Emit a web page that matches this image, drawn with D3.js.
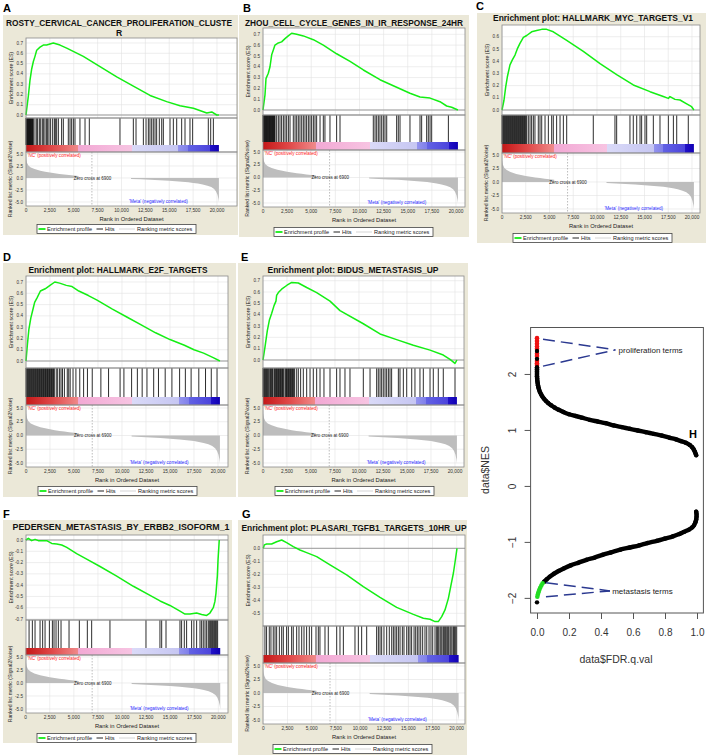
<!DOCTYPE html>
<html><head><meta charset="utf-8">
<script src="https://cdn.jsdelivr.net/npm/d3@7/dist/d3.min.js"></script>
<style>body{margin:0;background:#fff}svg{display:block}text{font-family:"Liberation Sans",Arial,sans-serif}</style>
</head><body><svg id="c" width="709" height="755"></svg>
<script>
// ---------------- DATA ----------------
const nGenes = 20200;
const zeroCross = 6900;
const rankTicks = [0,2500,5000,7500,10000,12500,15000,17500,20000];
const rankTickLabels = ["0","2,500","5,000","7,500","10,000","12,500","15,000","17,500","20,000"];
const metricTicks = [5,2.5,0,-2.5,-5];
const metricTickLabels = ["5.0","2.5","0.0","-2.5","-5.0"];
const esTicksPos7 = [0,0.1,0.2,0.3,0.4,0.5,0.6,0.7];
const esTicksPos6 = [0,0.1,0.2,0.3,0.4,0.5,0.6];
const esTicksNeg7 = [0,-0.1,-0.2,-0.3,-0.4,-0.5,-0.6,-0.7];
const esTicksNeg5 = [0,-0.1,-0.2,-0.3,-0.4,-0.5];

// ranked list metric (signal2noise), positive and negative parts
const metricPos = [[0,5],[30,4],[100,3.2],[250,2.6],[500,2.2],[900,1.85],[1500,1.5],[2000,1.3],[2500,1.12],[3000,0.97],[3500,0.84],[4000,0.72],[4500,0.6],[5000,0.5],[5500,0.4]];
const metricNeg = [[11000,-0.2],[12000,-0.28],[13000,-0.37],[14000,-0.46],[15000,-0.58],[16000,-0.72],[17000,-0.9],[17500,-1.02],[18000,-1.17],[18500,-1.35],[19000,-1.6],[19400,-1.9],[19700,-2.3],[19900,-2.8],[20050,-3.5],[20150,-4.3],[20200,-5.0]];

// colour bar bands [rank, colour]
const colorBarStops = [[0,"#c41818"],[2700,"#e04848"],[5450,"#f08a8a"],[5450,"#f2a8d4"],[11050,"#f7c4e2"],[11050,"#dadaf8"],[15950,"#c6c6f2"],[15950,"#9494ee"],[16950,"#8080ea"],[16950,"#6262e4"],[19250,"#4c44dc"],[19250,"#2212c8"],[20200,"#1000b4"]];

// enrichment score curves [rank, ES]
const esA = [[0,0],[240,0.18],[420,0.34],[600,0.45],[770,0.52],[940,0.57],[1120,0.63],[1470,0.66],[1810,0.68],[2160,0.68],[2860,0.70],[3560,0.68],[4260,0.65],[6000,0.57],[7750,0.47],[9500,0.37],[11240,0.28],[12990,0.19],[14730,0.13],[16130,0.09],[17530,0.065],[18930,0.02],[19450,0.03],[19970,0.0],[20200,0]];
const esB = [[0,0],[207,0.14],[310,0.29],[550,0.34],[725,0.40],[900,0.51],[1070,0.555],[1240,0.60],[1590,0.62],[1930,0.63],[2280,0.66],[2620,0.685],[2970,0.71],[3490,0.70],[4180,0.685],[5220,0.65],[6250,0.60],[7630,0.52],[9020,0.45],[10400,0.37],[12120,0.28],[13850,0.21],[15230,0.155],[16270,0.12],[17310,0.11],[18340,0.077],[19030,0.037],[19550,0.025],[20200,0]];
const esC = [[0,0],[210,0.08],[390,0.19],[560,0.27],[840,0.37],[1090,0.41],[1370,0.45],[1610,0.50],[1890,0.545],[2250,0.595],[2600,0.61],[3120,0.64],[3650,0.65],[4180,0.66],[4700,0.66],[5400,0.64],[6810,0.57],[8560,0.48],[10320,0.38],[12070,0.29],[13820,0.205],[15580,0.15],[16980,0.11],[17510,0.095],[17680,0.11],[18210,0.087],[18740,0.082],[19440,0.05],[19960,0.027],[20200,0]];
const esD = [[0,0],[150,0.15],[300,0.28],[500,0.38],[700,0.45],[900,0.52],[1150,0.56],[1500,0.62],[2000,0.64],[2500,0.67],[3000,0.70],[3500,0.69],[4200,0.67],[4800,0.66],[5500,0.62],[6500,0.58],[7400,0.54],[9000,0.46],[10500,0.39],[12000,0.32],[13500,0.25],[15000,0.19],[16500,0.14],[17500,0.10],[18500,0.07],[19500,0.03],[20200,0]];
const esE = [[0,0],[210,0.116],[450,0.26],[660,0.35],[900,0.41],[1150,0.48],[1350,0.52],[1420,0.57],[1600,0.595],[1940,0.625],[2500,0.66],[2990,0.685],[3680,0.68],[4550,0.64],[5590,0.595],[6980,0.52],[8020,0.436],[10450,0.32],[12190,0.23],[13920,0.18],[15660,0.13],[17400,0.087],[18780,0.044],[19480,0.005],[20000,-0.03],[20200,0]];
const esF = [[0,0],[280,0.015],[620,-0.006],[970,0.006],[1310,-0.006],[2180,-0.006],[2700,-0.03],[3220,-0.035],[3740,-0.044],[4260,-0.065],[5290,-0.12],[6330,-0.17],[7720,-0.235],[9450,-0.32],[11180,-0.41],[12910,-0.49],[13950,-0.54],[14980,-0.58],[16020,-0.63],[16540,-0.656],[17060,-0.656],[17750,-0.647],[18270,-0.66],[18790,-0.668],[19130,-0.647],[19480,-0.60],[19650,-0.544],[19760,-0.47],[19900,-0.32],[19970,-0.18],[20100,0]];
const esG = [[0,0],[100,0.026],[340,0.033],[860,0.033],[1380,0.05],[1900,0.064],[2410,0.044],[3100,0.013],[3790,-0.013],[4480,-0.033],[5520,-0.064],[6900,-0.128],[8620,-0.205],[10340,-0.295],[12070,-0.377],[13790,-0.454],[15520,-0.508],[16550,-0.538],[17240,-0.546],[17760,-0.564],[18100,-0.564],[18450,-0.526],[18790,-0.474],[19140,-0.385],[19380,-0.295],[19660,-0.19],[19860,-0.09],[20030,0]];

// gene-set hit ranks
const hitsA = [0,35,70,105,140,175,210,245,280,315,350,385,420,455,490,525,560,600,640,680,720,760,940,1120,1220,1400,1540,1710,1850,1990,2160,2270,2410,2580,2790,2970,3070,3210,3390,3730,3910,4430,4610,4780,4960,5130,5650,6180,6630,9840,11240,11520,12290,12570,12810,12980,13160,13330,13510,13680,13960,14210,14380,15080,15430,15780,16300,16650,17170,17450,19090,19340,19620];
const hitsB = [0,45,90,135,180,225,270,315,360,405,450,495,540,585,630,675,720,765,810,855,900,945,990,1035,1080,1125,1170,1215,1240,1416,1590,1760,1930,2110,2280,2450,2630,2800,3140,3320,3490,3660,3830,4010,4180,4350,4520,4700,4870,5040,5220,5390,5560,5910,6250,6420,6940,7630,7980,11430,11610,11780,11950,12120,12300,12470,12640,12820,13850,14020,14200,15230,16270,16440,16960,17130,17310,17480,19210];
const hitsC = [0,70,140,210,280,350,420,490,560,630,700,770,840,910,980,1050,1120,1190,1260,1330,1400,1470,1540,1610,1680,1750,1820,1890,1960,2030,2100,2170,2240,2310,2380,2450,2520,2600,2770,2950,3120,3300,3470,3820,4000,4180,4530,4880,5230,5400,5750,6110,6460,6810,9610,11890,12070,13470,13820,14180,14530,14700,15050,15230,15930,16630,17510,18040,18390,19610];
const hitsD = [0,70,140,210,280,350,420,490,560,630,700,770,840,910,980,1050,1120,1190,1260,1330,1400,1470,1540,1610,1680,1750,1820,1890,1960,2030,2100,2170,2240,2310,2380,2450,2520,2590,2660,2730,2800,2870,2950,3150,3300,3500,3650,3800,4000,4300,4450,4600,4900,5200,5600,6000,6400,6900,7800,8600,9800,10200,11000,11600,12100,12600,13300,13800,14500,15200,16000,16600,17200,18000,18700,19300,19900];
const hitsE = [0,70,140,210,280,350,420,490,560,700,770,840,910,980,1050,1190,1260,1330,1400,1470,1540,1610,1680,1750,1820,1890,1960,2030,2100,2170,2310,2380,2450,2520,2590,2660,2730,2800,2870,2940,3010,3080,3150,3220,3300,3510,3680,3920,4200,4550,4900,5240,5590,5940,6350,6980,7670,8020,8540,9060,10450,11150,11840,12010,12190,12360,12530,12710,12880,13060,13230,13400,14100,14270,14620,14970,15490,15830,16350,16700,17400,17740,18260,18780,20000];
const hitsF = [350,690,970,1490,1760,2010,2460,2770,2940,3150,3390,3670,4500,5570,6400,6850,8750,12490,13940,14120,14570,16020,16190,16470,16710,17230,17470,17750,18100,18270,18440,18620,18790,18960,19070,19200,19310,19410,19520,19620,19720,19830,19930];
const hitsG = [170,340,620,790,1030,1210,1380,1660,1900,2070,2410,2590,2930,3100,3450,3690,3970,4210,4480,4760,5000,5450,5690,5860,6380,6720,7590,7930,8280,9480,9830,10170,10690,11720,11900,12070,12240,12480,12760,13030,13280,13450,13620,13790,13970,14140,14380,14550,14830,15000,15170,15340,15590,15760,15930,16100,16280,16480,16720,16900,17140,17340,17520,17760,17930,18030,18140,18280,18380,18480,18620,18720,18830,18970,19070,19170,19310,19410,19520,19660,19760,19860,20000];

// panel H: [FDR q-value, NES]
const prolifTerms = [[0,2.64],[0,2.59],[0,2.54],[0,2.49],[0,2.45],[0,2.36],[0,2.32],[0,2.23],[0,2.19],[0,2.16]];
const otherPos = [[0,2.41],[0,2.27],[0,2.12],[0,2.08],[0,2.04],[0,2.0],[0,1.96],[0.001,1.92],[0.002,1.88],[0.004,1.84],[0.006,1.80],[0.009,1.76],[0.013,1.72],[0.018,1.68],[0.025,1.64],[0.033,1.60],[0.043,1.56],[0.055,1.52],[0.07,1.48],[0.088,1.44],[0.11,1.40],[0.135,1.36],[0.165,1.32],[0.2,1.28],[0.24,1.25],[0.28,1.22],[0.33,1.18],[0.38,1.15],[0.43,1.12],[0.48,1.08],[0.53,1.05],[0.58,1.02],[0.63,0.99],[0.68,0.96],[0.73,0.93],[0.78,0.9],[0.83,0.86],[0.87,0.83],[0.9,0.8],[0.93,0.77],[0.955,0.73],[0.97,0.69],[0.98,0.65],[0.987,0.61],[0.992,0.57],[0.995,0.55]];
const otherNeg = [[0.995,-0.46],[0.997,-0.5],[0.997,-0.55],[0.995,-0.6],[0.99,-0.65],[0.982,-0.7],[0.97,-0.74],[0.95,-0.78],[0.92,-0.82],[0.89,-0.86],[0.85,-0.9],[0.8,-0.94],[0.75,-0.98],[0.69,-1.02],[0.64,-1.06],[0.58,-1.1],[0.52,-1.14],[0.46,-1.19],[0.41,-1.23],[0.36,-1.28],[0.31,-1.32],[0.26,-1.37],[0.21,-1.42],[0.17,-1.47],[0.135,-1.52],[0.105,-1.57],[0.08,-1.62],[0.06,-1.67],[0.045,-1.71]];
const metastasisTerms = [[0.035,-1.74],[0.027,-1.78],[0.02,-1.82],[0.014,-1.86],[0.009,-1.9],[0.005,-1.94],[0.002,-1.98]];
const lowestTerm = [[0,-2.08]];
const fdrTicks = [0,0.2,0.4,0.6,0.8,1.0];
const nesTicks = [-2,-1,0,1,2];
const nesTickLabels = ["\u22122","\u22121","0","1","2"];

// ---------------- LAYOUT ----------------
const panels = [
 {id:"A",label:[3,12],box:[3,15,238,235],title:["ROSTY_CERVICAL_CANCER_PROLIFERATION_CLUSTE","R"],tx:119,ty:[26,36],tw:[226,null],pl:26,pr:237,x0:26,x20:217,esTop:38,esDom:[0,0.7],esRng:[115,43],hitsTop:118,cbTop:145,cbBot:152,m5:154,mm5:202,legend:[37,229],es:esA,hits:hitsA,ticks:esTicksPos7},
 {id:"B",label:[243,12],box:[239,15,469,237],title:["ZHOU_CELL_CYCLE_GENES_IN_IR_RESPONSE_24HR"],tx:354,ty:[26],tw:[218],pl:263,pr:465,x0:263,x20:456,esTop:28,esDom:[0,0.7],esRng:[110,34.3],hitsTop:115,cbTop:142,cbBot:150,m5:152,mm5:203,legend:[274,232],es:esB,hits:hitsB,ticks:esTicksPos7},
 {id:"C",label:[476,10],box:[477,13,706,243],title:["Enrichment plot: HALLMARK_MYC_TARGETS_V1"],tx:593,ty:[21],tw:[200],pl:502,pr:700,x0:502,x20:692,esTop:25,esDom:[0,0.6],esRng:[110,36.7],hitsTop:115,cbTop:144,cbBot:153,m5:155,mm5:209,legend:[513,238],es:esC,hits:hitsC,ticks:esTicksPos6},
 {id:"D",label:[3,261],box:[3,263,236,497],title:["Enrichment plot: HALLMARK_E2F_TARGETS"],tx:118,ty:[273],tw:[179],pl:26,pr:228,x0:26,x20:218,esTop:276,esDom:[0,0.7],esRng:[361,282],hitsTop:368,cbTop:397,cbBot:405,m5:408,mm5:463,legend:[38,491],es:esD,hits:hitsD,ticks:esTicksPos7},
 {id:"E",label:[241,261],box:[238,263,468,497],title:["Enrichment plot: BIDUS_METASTASIS_UP"],tx:353,ty:[273],tw:[171],pl:263,pr:464,x0:263,x20:455,esTop:276,esDom:[0,0.7],esRng:[360,280.7],hitsTop:368,cbTop:397,cbBot:405,m5:408,mm5:463,legend:[275,491],es:esE,hits:hitsE,ticks:esTicksPos7},
 {id:"F",label:[3,518],box:[3,520,232,743],title:["PEDERSEN_METASTASIS_BY_ERBB2_ISOFORM_1"],tx:121,ty:[530],tw:[217],pl:26,pr:228,x0:25.7,x20:218.3,esTop:535,esDom:[0,-0.7],esRng:[540,619],hitsTop:620,cbTop:648,cbBot:655,m5:657,mm5:709,legend:[37,738],es:esF,hits:hitsF,ticks:esTicksNeg7},
 {id:"G",label:[242,518],box:[238,520,467,755],title:["Enrichment plot: PLASARI_TGFB1_TARGETS_10HR_UP"],tx:354,ty:[531],tw:[225],pl:263,pr:465,x0:263.3,x20:456.7,esTop:535,esDom:[0,-0.5],esRng:[548.3,613.3],hitsTop:626,cbTop:655,cbBot:663,m5:666,mm5:720,legend:[273,749],es:esG,hits:hitsG,ticks:esTicksNeg5}
];

const svg = d3.select("#c");
const defs = svg.append("defs");

function gsea(L) {
  const x = d3.scaleLinear().domain([0,20000]).range([L.x0, L.x20]);
  const yE = d3.scaleLinear().domain(L.esDom).range(L.esRng);
  const yM = d3.scaleLinear().domain([5,-5]).range([L.m5, L.mm5]);
  const mBot = L.mm5 + 4;
  const g = svg.append("g");
  const [bx0,by0,bx1,by1] = L.box;
  g.append("rect").attr("x",bx0).attr("y",by0).attr("width",bx1-bx0).attr("height",by1-by0).attr("fill","#ebe8d8");
  g.append("text").attr("x",L.label[0]).attr("y",L.label[1]).attr("font-size",11).attr("font-weight","bold").text(L.id);
  L.title.forEach((t,i)=>{
    const tt = g.append("text").attr("x",L.tx).attr("y",L.ty[i]).attr("text-anchor","middle")
      .attr("font-size",8.6).attr("font-weight","bold").attr("fill","#111").text(t);
    if (L.tw[i]) tt.attr("textLength",L.tw[i]).attr("lengthAdjust","spacingAndGlyphs");
  });
  const W = L.pr - L.pl;
  g.append("rect").attr("x",L.pl).attr("y",L.esTop).attr("width",W).attr("height",mBot-L.esTop).attr("fill","#fff");
  // grid
  const grid = g.append("g").attr("stroke","#e3e3e3").attr("stroke-width",0.6);
  rankTicks.forEach(r=>{
    grid.append("line").attr("x1",x(r)).attr("x2",x(r)).attr("y1",L.esTop).attr("y2",L.hitsTop);
    grid.append("line").attr("x1",x(r)).attr("x2",x(r)).attr("y1",L.cbBot).attr("y2",mBot);
  });
  L.ticks.forEach(v=>grid.append("line").attr("x1",L.pl).attr("x2",L.pr).attr("y1",yE(v)).attr("y2",yE(v)));
  metricTicks.forEach(v=>grid.append("line").attr("x1",L.pl).attr("x2",L.pr).attr("y1",yM(v)).attr("y2",yM(v)));
  // ES zero line
  g.append("line").attr("x1",L.pl).attr("x2",L.pr).attr("y1",yE(0)).attr("y2",yE(0)).attr("stroke","#9a9a9a").attr("stroke-width",1);
  // ES curve
  g.append("path").datum(L.es).attr("d",d3.line().x(d=>x(d[0])).y(d=>yE(d[1])))
    .attr("fill","none").attr("stroke","#14ee14").attr("stroke-width",1.5).attr("stroke-linejoin","round");
  // ES tick labels
  L.ticks.forEach(v=>g.append("text").attr("x",L.pl-3).attr("y",yE(v)+1.6).attr("text-anchor","end")
    .attr("font-size",4.6).attr("fill","#333").text(v.toFixed(1)));
  // hits
  g.append("g").selectAll("line").data(L.hits).join("line")
    .attr("x1",d=>x(d)).attr("x2",d=>x(d)).attr("y1",L.hitsTop).attr("y2",L.cbTop)
    .attr("stroke","#151515").attr("stroke-width",0.9);
  // colour bar
  const gid = "cb"+L.id;
  const grad = defs.append("linearGradient").attr("id",gid).attr("gradientUnits","userSpaceOnUse")
    .attr("x1",x(0)).attr("x2",x(nGenes)).attr("y1",0).attr("y2",0);
  colorBarStops.forEach(s=>grad.append("stop").attr("offset",s[0]/nGenes).attr("stop-color",s[1]));
  g.append("rect").attr("x",x(0)).attr("y",L.cbTop).attr("width",x(nGenes)-x(0)).attr("height",L.cbBot-L.cbTop).attr("fill",`url(#${gid})`);
  // metric
  const area = d3.area().x(d=>x(d[0])).y0(yM(0)).y1(d=>yM(d[1]));
  g.append("path").datum(metricPos).attr("d",area).attr("fill","#bdbdbd");
  g.append("path").datum(metricNeg).attr("d",area).attr("fill","#bdbdbd");
  g.append("line").attr("x1",x(zeroCross)).attr("x2",x(zeroCross)).attr("y1",L.cbBot).attr("y2",mBot)
    .attr("stroke","#a0a0a0").attr("stroke-width",0.7).attr("stroke-dasharray","1.5,1.5");
  g.append("text").attr("x",x(6960)).attr("y",yM(0)+1.6).attr("text-anchor","middle").attr("font-size",4.5).attr("fill","#222").text("Zero cross at 6900");
  g.append("text").attr("x",L.pl+1.5).attr("y",L.cbBot+4.6).attr("font-size",4.6).attr("fill","#ff1a1a").text("'NC' (positively correlated)");
  g.append("text").attr("x",x(13870)).attr("y",L.mm5+1.2).attr("text-anchor","middle").attr("font-size",4.6).attr("fill","#2a2aff").text("'Meta' (negatively correlated)");
  metricTicks.forEach((v,i)=>g.append("text").attr("x",L.pl-3).attr("y",yM(v)+1.6).attr("text-anchor","end")
    .attr("font-size",4.6).attr("fill","#333").text(metricTickLabels[i]));
  // borders
  const bd = g.append("g").attr("fill","none").attr("stroke","#8a8a8a").attr("stroke-width",0.8);
  bd.append("rect").attr("x",L.pl).attr("y",L.esTop).attr("width",W).attr("height",L.hitsTop-L.esTop);
  bd.append("rect").attr("x",L.pl).attr("y",L.hitsTop).attr("width",W).attr("height",L.cbBot-L.hitsTop);
  bd.append("rect").attr("x",L.pl).attr("y",L.cbBot).attr("width",W).attr("height",mBot-L.cbBot);
  // x ticks
  rankTicks.forEach((r,i)=>g.append("text").attr("x",x(r)).attr("y",mBot+6.4).attr("text-anchor","middle")
    .attr("font-size",4.8).attr("fill","#333").text(rankTickLabels[i]));
  g.append("text").attr("x",(L.pl+L.pr)/2).attr("y",mBot+15).attr("text-anchor","middle").attr("font-size",5.8).attr("fill","#222").text("Rank in Ordered Dataset");
  // y labels
  g.append("text").attr("transform",`translate(${L.pl-13},${(L.esTop+L.hitsTop)/2}) rotate(-90)`).attr("text-anchor","middle")
    .attr("font-size",5.2).attr("fill","#222").text("Enrichment score (ES)");
  g.append("text").attr("transform",`translate(${L.pl-14},${(L.cbBot+mBot)/2}) rotate(-90)`).attr("text-anchor","middle")
    .attr("font-size",5.2).attr("fill","#222").text("Ranked list metric (Signal2Noise)");
  // legend
  const [lx,ly] = L.legend;
  const lg = g.append("g");
  lg.append("rect").attr("x",lx).attr("y",ly-4.5).attr("width",159).attr("height",9).attr("fill","#fff").attr("stroke","#444").attr("stroke-width",0.8);
  lg.append("line").attr("x1",lx+1.5).attr("x2",lx+8.5).attr("y1",ly).attr("y2",ly).attr("stroke","#14ee14").attr("stroke-width",1.8);
  lg.append("text").attr("x",lx+10).attr("y",ly+2).attr("font-size",5.6).attr("fill","#222").text("Enrichment profile");
  lg.append("line").attr("x1",lx+59.5).attr("x2",lx+66).attr("y1",ly).attr("y2",ly).attr("stroke","#222").attr("stroke-width",1);
  lg.append("text").attr("x",lx+68).attr("y",ly+2).attr("font-size",5.6).attr("fill","#222").text("Hits");
  lg.append("line").attr("x1",lx+82).attr("x2",lx+98).attr("y1",ly).attr("y2",ly).attr("stroke","#dcdcdc").attr("stroke-width",1.2);
  lg.append("text").attr("x",lx+100).attr("y",ly+2).attr("font-size",5.6).attr("fill","#222").text("Ranking metric scores");
}
panels.forEach(gsea);

// ---------------- PANEL H ----------------
const hx = d3.scaleLinear().domain([-0.04,1.04]).range([530.6,703.4]);
const hy = d3.scaleLinear().domain([-2.27,2.83]).range([613,327.5]);
const h = svg.append("g");
h.append("text").attr("x",689).attr("y",438).attr("font-size",11).attr("font-weight","bold").text("H");
h.append("rect").attr("x",hx(-0.04)).attr("y",hy(2.83)).attr("width",hx(1.04)-hx(-0.04)).attr("height",hy(-2.27)-hy(2.83))
  .attr("fill","none").attr("stroke","#555").attr("stroke-width",1);
const xAx = h.append("g").attr("transform",`translate(0,${hy(-2.27)})`)
  .call(d3.axisBottom(hx).tickValues(fdrTicks).tickFormat(d3.format(".1f")).tickSize(6).tickPadding(10));
xAx.select(".domain").remove();
xAx.selectAll("line").attr("stroke","#555");
xAx.selectAll("text").attr("font-size",10).attr("fill","#333").attr("font-family",'"Liberation Sans",Arial,sans-serif');
const yAx = h.append("g").attr("transform",`translate(${hx(-0.04)},0)`)
  .call(d3.axisLeft(hy).tickValues(nesTicks).tickFormat((d,i)=>nesTickLabels[i]).tickSize(6));
yAx.select(".domain").remove();
yAx.selectAll("line").attr("stroke","#555");
yAx.selectAll("text").attr("font-size",10).attr("fill","#333").attr("font-family",'"Liberation Sans",Arial,sans-serif')
  .attr("x",null).attr("text-anchor","middle").attr("transform","translate(-18.5,0) rotate(-90)").attr("y",0).attr("dy","0.35em");
h.append("text").attr("x",616).attr("y",663).attr("text-anchor","middle").attr("font-size",10.5).attr("fill","#333").text("data$FDR.q.val");
h.append("text").attr("transform","translate(489,470) rotate(-90)").attr("text-anchor","middle").attr("font-size",10.5).attr("fill","#333").text("data$NES");

const hline = d3.line().x(d=>hx(d[0])).y(d=>hy(d[1])).curve(d3.curveCatmullRom);
h.append("path").datum(otherPos.filter(d=>d[1]<2.15)).attr("d",hline).attr("fill","none").attr("stroke","#000").attr("stroke-width",4.4).attr("stroke-linecap","round");
h.append("path").datum(otherNeg).attr("d",hline).attr("fill","none").attr("stroke","#000").attr("stroke-width",4.4).attr("stroke-linecap","round");
h.append("g").selectAll("circle").data(prolifTerms).join("circle").attr("cx",d=>hx(d[0])).attr("cy",d=>hy(d[1])).attr("r",2.3).attr("fill","#ee1111");
h.append("g").selectAll("circle").data(otherPos.concat(otherNeg, lowestTerm)).join("circle").attr("cx",d=>hx(d[0])).attr("cy",d=>hy(d[1])).attr("r",2.2).attr("fill","#000");
h.append("g").selectAll("circle").data(metastasisTerms).join("circle").attr("cx",d=>hx(d[0])).attr("cy",d=>hy(d[1])).attr("r",2.3).attr("fill","#22dd22");

// annotations
const ann = h.append("g").attr("stroke","#2b3990").attr("stroke-width",1.5).attr("stroke-dasharray","12,6").attr("fill","none");
[[[0.0375,2.62],[0.49,2.43]],[[0.0375,2.14],[0.49,2.43]],[[0.056,-1.73],[0.456,-1.875]],[[0.056,-1.98],[0.456,-1.875]]].forEach(seg=>
  ann.append("line").attr("x1",hx(seg[0][0])).attr("y1",hy(seg[0][1])).attr("x2",hx(seg[1][0])).attr("y2",hy(seg[1][1])));
h.append("text").attr("x",hx(0.51)).attr("y",hy(2.43)).attr("dy","0.35em").attr("font-size",8).attr("fill","#222").text("proliferation terms");
h.append("text").attr("x",hx(0.47)).attr("y",hy(-1.875)).attr("dy","0.35em").attr("font-size",8).attr("fill","#222").text("metastasis terms");
</script></body></html>
